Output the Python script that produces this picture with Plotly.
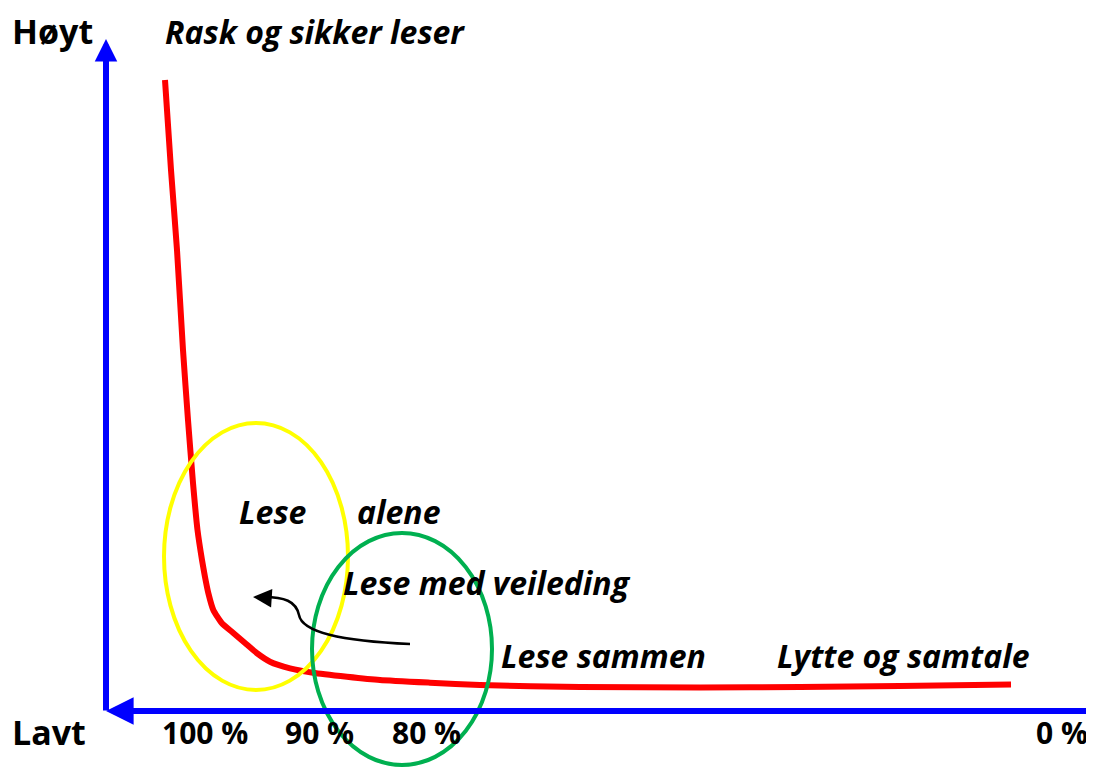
import plotly.graph_objects as go

# ---- data (schematic coordinates in page pixels, y grows downward) ----
curve_x = [165, 171, 177, 183, 188, 193, 197.5, 202, 205, 208.3, 213.3, 221.7, 233.3, 245,
           256.7, 270, 290, 313, 347, 380, 430, 480, 580, 700, 800, 900, 1011]
curve_y = [80, 170, 250, 350, 420, 483, 530, 560, 577, 593, 610, 623, 633, 643,
           653, 661.7, 668.3, 672.7, 676.7, 680, 682.7, 685, 687, 687.5, 687, 686, 684.5]

tick_labels = ["100 %", "90 %", "80 %", "0 %"]
tick_x = [160, 283, 390, 1090]
tick_anchor = ["left", "left", "left", "right"]

zone_labels = ["Lese", "alene", "Lese med veileding", "Lese sammen", "Lytte og samtale"]
zone_x = [237, 355, 341, 499, 775]
zone_y = [511, 511, 582, 655, 655]

# ellipses bounding boxes: x0, x1, y0, y1
yellow_box = [164, 348, 423, 690]
green_box = [312, 492, 533, 765]

# axes
yaxis_line = [106, 712, 39]      # x, bottom y, tip y
xaxis_line = [711, 1090, 106]    # y, right x, tip x

BLUE = "#0000FF"
RED = "#FF0000"
FONT = "Open Sans"
OFF = 8  # default page body margin

fig = go.Figure()

fig.add_trace(go.Scatter(x=curve_x, y=curve_y, mode="lines",
                         line=dict(color=RED, width=6, shape="spline", smoothing=0.5),
                         hoverinfo="skip", showlegend=False))

shapes = [
    dict(type="circle", xref="x", yref="y", x0=yellow_box[0], x1=yellow_box[1],
         y0=yellow_box[2], y1=yellow_box[3], line=dict(color="#FFFF00", width=4)),
    dict(type="circle", xref="x", yref="y", x0=green_box[0], x1=green_box[1],
         y0=green_box[2], y1=green_box[3], line=dict(color="#00B050", width=4)),
    dict(type="path", xref="x", yref="y",
         path="M 410 644 C 340 641, 302 632, 299 615 C 296 601, 284 597, 264 597",
         line=dict(color="black", width=2.5)),
]

annotations = []
annotations.append(dict(x=yaxis_line[0], y=yaxis_line[2], ax=yaxis_line[0], ay=yaxis_line[1],
                        xref="x", yref="y", axref="x", ayref="y", text="", showarrow=True,
                        arrowhead=2, arrowsize=0.75, arrowwidth=6, arrowcolor=BLUE))
annotations.append(dict(x=xaxis_line[2], y=xaxis_line[0], ax=xaxis_line[1], ay=xaxis_line[0],
                        xref="x", yref="y", axref="x", ayref="y", text="", showarrow=True,
                        arrowhead=2, arrowsize=0.92, arrowwidth=6, arrowcolor=BLUE))
annotations.append(dict(x=253, y=597, ax=268, ay=598, xref="x", yref="y", axref="x", ayref="y",
                        text="", showarrow=True, arrowhead=2, arrowsize=1.5, arrowwidth=2.5,
                        arrowcolor="black"))

annotations.append(dict(x=10, y=31, xref="x", yref="y", text="<b>Høyt</b>", showarrow=False,
                        xanchor="left", yanchor="middle", font=dict(family=FONT, size=34, color="black")))
annotations.append(dict(x=10, y=732, xref="x", yref="y", text="<b>Lavt</b>", showarrow=False,
                        xanchor="left", yanchor="middle", font=dict(family=FONT, size=34, color="black")))
annotations.append(dict(x=163, y=31, xref="x", yref="y", text="<b><i>Rask og sikker leser</i></b>",
                        showarrow=False, xanchor="left", yanchor="middle",
                        font=dict(family=FONT, size=32, color="black")))
for t, x, y in zip(zone_labels, zone_x, zone_y):
    annotations.append(dict(x=x, y=y, xref="x", yref="y", text=f"<b><i>{t}</i></b>", showarrow=False,
                            xanchor="left", yanchor="middle", font=dict(family=FONT, size=32, color="black")))
for t, x, a in zip(tick_labels, tick_x, tick_anchor):
    annotations.append(dict(x=x, y=732, xref="x", yref="y", text=f"<b>{t}</b>", showarrow=False,
                            xanchor=a, yanchor="middle", font=dict(family=FONT, size=30, color="black")))

fig.update_layout(
    width=1094 - OFF, height=767 - OFF,
    margin=dict(l=0, r=0, t=0, b=0),
    paper_bgcolor="white", plot_bgcolor="white",
    xaxis=dict(range=[OFF, 1094], visible=False, fixedrange=True),
    yaxis=dict(range=[767, OFF], visible=False, fixedrange=True),
    shapes=shapes, annotations=annotations, showlegend=False,
)

fig.write_html("out.html")
